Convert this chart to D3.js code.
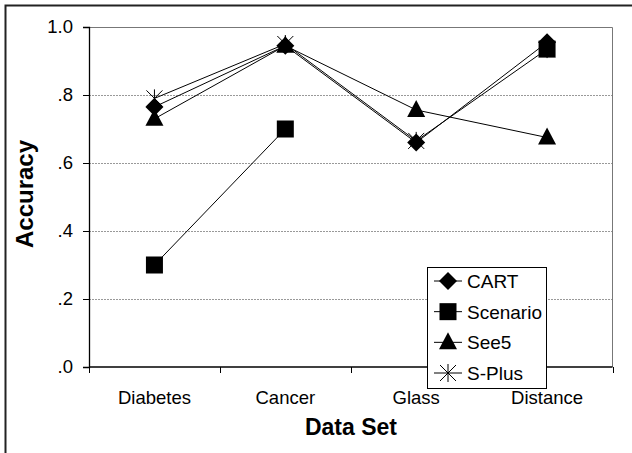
<!DOCTYPE html>
<html>
<head>
<meta charset="utf-8">
<script src="https://cdn.jsdelivr.net/npm/d3@7"></script>
<style>
  html, body { margin: 0; padding: 0; background: #fff; }
  svg { display: block; }
  svg text { font-family: Arial, "Liberation Sans", Helvetica, sans-serif; }
</style>
</head>
<body>
<svg id="chart" width="632" height="453"></svg>
<script>
// Classification accuracy of four methods on four data sets
const categories = ["Diabetes", "Cancer", "Glass", "Distance"];
const seriesNames = ["CART", "Scenario", "See5", "S-Plus"];
const cartValues     = [0.765, 0.945, 0.66, 0.955];
const scenarioValues = [0.30, 0.70, null, 0.935];
const see5Values     = [0.73, 0.945, 0.756, 0.675];
const splusValues    = [0.79, 0.95, 0.665, 0.935];
const yTicks = [0, 0.2, 0.4, 0.6, 0.8, 1.0];
const yTickLabels = [".0", ".2", ".4", ".6", ".8", "1.0"];

const series = [
  { name: seriesNames[0], values: cartValues, symbol: "diamond" },
  { name: seriesNames[1], values: scenarioValues, symbol: "square" },
  { name: seriesNames[2], values: see5Values, symbol: "triangle" },
  { name: seriesNames[3], values: splusValues, symbol: "star" }
];

const FONT = "Arial, 'Liberation Sans', Helvetica, sans-serif";
const svg = d3.select("#chart");
const plot = { left: 89, top: 27, right: 612.5, bottom: 367 };

// outer frame (runs off the right and bottom edges)
svg.append("rect")
  .attr("x", 5.5).attr("y", 5.5)
  .attr("width", 640).attr("height", 460)
  .attr("fill", "none").attr("stroke", "#222").attr("stroke-width", 2);

const x = d3.scaleBand().domain(categories).range([plot.left, plot.right]).padding(0);
const y = d3.scaleLinear().domain([0, 1]).range([plot.bottom, plot.top]);
const cx = c => x(c) + x.bandwidth() / 2;

// grid lines
svg.append("g").selectAll("line")
  .data(yTicks.filter(d => d > 0 && d < 1))
  .join("line")
  .attr("x1", plot.left).attr("x2", plot.right)
  .attr("y1", d => Math.round(y(d)) + 0.5).attr("y2", d => Math.round(y(d)) + 0.5)
  .attr("stroke", "#999").attr("stroke-width", 1).attr("stroke-dasharray", "2,1");

// plot-area border (top and right)
svg.append("path")
  .attr("d", `M${plot.left},${plot.top + 0.5}H${plot.right}V${plot.bottom}`)
  .attr("fill", "none").attr("stroke", "#777").attr("stroke-width", 1);

// y axis
const yAxis = d3.axisLeft(y).tickValues(yTicks)
  .tickFormat((d, i) => yTickLabels[i]).tickSize(6).tickPadding(10);
const gy = svg.append("g").attr("transform", `translate(${plot.left},0)`).call(yAxis)
  .attr("font-family", FONT);
gy.select(".domain").attr("stroke", "#000").attr("stroke-width", 1.3);
gy.selectAll(".tick line").attr("stroke", "#000");
gy.selectAll("text").attr("font-size", 18.5).attr("fill", "#000").attr("font-family", FONT);

// x axis: ticks sit on the category boundaries
const gx = svg.append("g").attr("transform", `translate(0,${plot.bottom})`);
gx.append("line").attr("x1", plot.left).attr("x2", plot.right)
  .attr("stroke", "#000").attr("stroke-width", 1.5);
const bounds = categories.map(c => x(c)).concat([plot.right]);
gx.selectAll("line.tk").data(bounds).join("line").attr("class", "tk")
  .attr("x1", d => Math.round(d) + 0.5).attr("x2", d => Math.round(d) + 0.5)
  .attr("y1", 0).attr("y2", 6).attr("stroke", "#000");
gx.selectAll("text").data(categories).join("text")
  .attr("x", d => cx(d)).attr("y", 37)
  .attr("text-anchor", "middle").attr("font-size", 18.5).attr("fill", "#000")
  .attr("font-family", FONT)
  .text(d => d);

// axis titles
svg.append("text").attr("x", 351).attr("y", 435).attr("text-anchor", "middle")
  .attr("font-family", FONT)
  .attr("font-size", 23).attr("font-weight", "bold").text("Data Set");
svg.append("text").attr("transform", "translate(33,194) rotate(-90)")
  .attr("text-anchor", "middle").attr("font-size", 24).attr("font-weight", "bold")
  .attr("font-family", FONT)
  .text("Accuracy");

// marker drawing
function drawMarker(g, symbol, px, py) {
  if (symbol === "diamond") {
    g.append("path").attr("d", `M${px},${py - 9}L${px + 9},${py}L${px},${py + 9}L${px - 9},${py}Z`)
      .attr("fill", "#000");
  } else if (symbol === "square") {
    g.append("rect").attr("x", px - 8.5).attr("y", py - 8.5).attr("width", 17).attr("height", 17)
      .attr("fill", "#000");
  } else if (symbol === "triangle") {
    g.append("path").attr("d", `M${px},${py - 10}L${px + 9},${py + 7}L${px - 9},${py + 7}Z`)
      .attr("fill", "#000");
  } else if (symbol === "star") {
    g.append("path").attr("d", `M${px - 8},${py - 8}L${px + 8},${py + 8}M${px + 8},${py - 8}L${px - 8},${py + 8}M${px},${py - 9}V${py + 9}`)
      .attr("stroke", "#000").attr("stroke-width", 1).attr("fill", "none");
  }
}

const line = d3.line()
  .defined(d => d != null)
  .x((d, i) => cx(categories[i]))
  .y(d => y(d));

const gSeries = svg.append("g");
series.forEach(s => {
  gSeries.append("path").datum(s.values).attr("d", line)
    .attr("fill", "none").attr("stroke", "#000").attr("stroke-width", 1);
});
series.forEach(s => {
  const g = gSeries.append("g");
  s.values.forEach((v, i) => { if (v != null) drawMarker(g, s.symbol, cx(categories[i]), y(v)); });
});

// legend
const lg = svg.append("g");
lg.append("rect").attr("x", 427.5).attr("y", 267.5).attr("width", 119).attr("height", 121)
  .attr("fill", "#fff").attr("stroke", "#000").attr("stroke-width", 1);
const legendY = d3.scalePoint().domain(seriesNames).range([281, 373]);
series.forEach(s => {
  const ly = legendY(s.name);
  lg.append("line").attr("x1", 434).attr("x2", 462).attr("y1", ly).attr("y2", ly)
    .attr("stroke", "#000").attr("stroke-width", 1);
  drawMarker(lg, s.symbol, 448, ly);
  lg.append("text").attr("x", 467).attr("y", ly + 7).attr("font-size", 19)
    .attr("font-family", FONT)
    .attr("fill", "#000").text(s.name);
});
</script>
</body>
</html>
